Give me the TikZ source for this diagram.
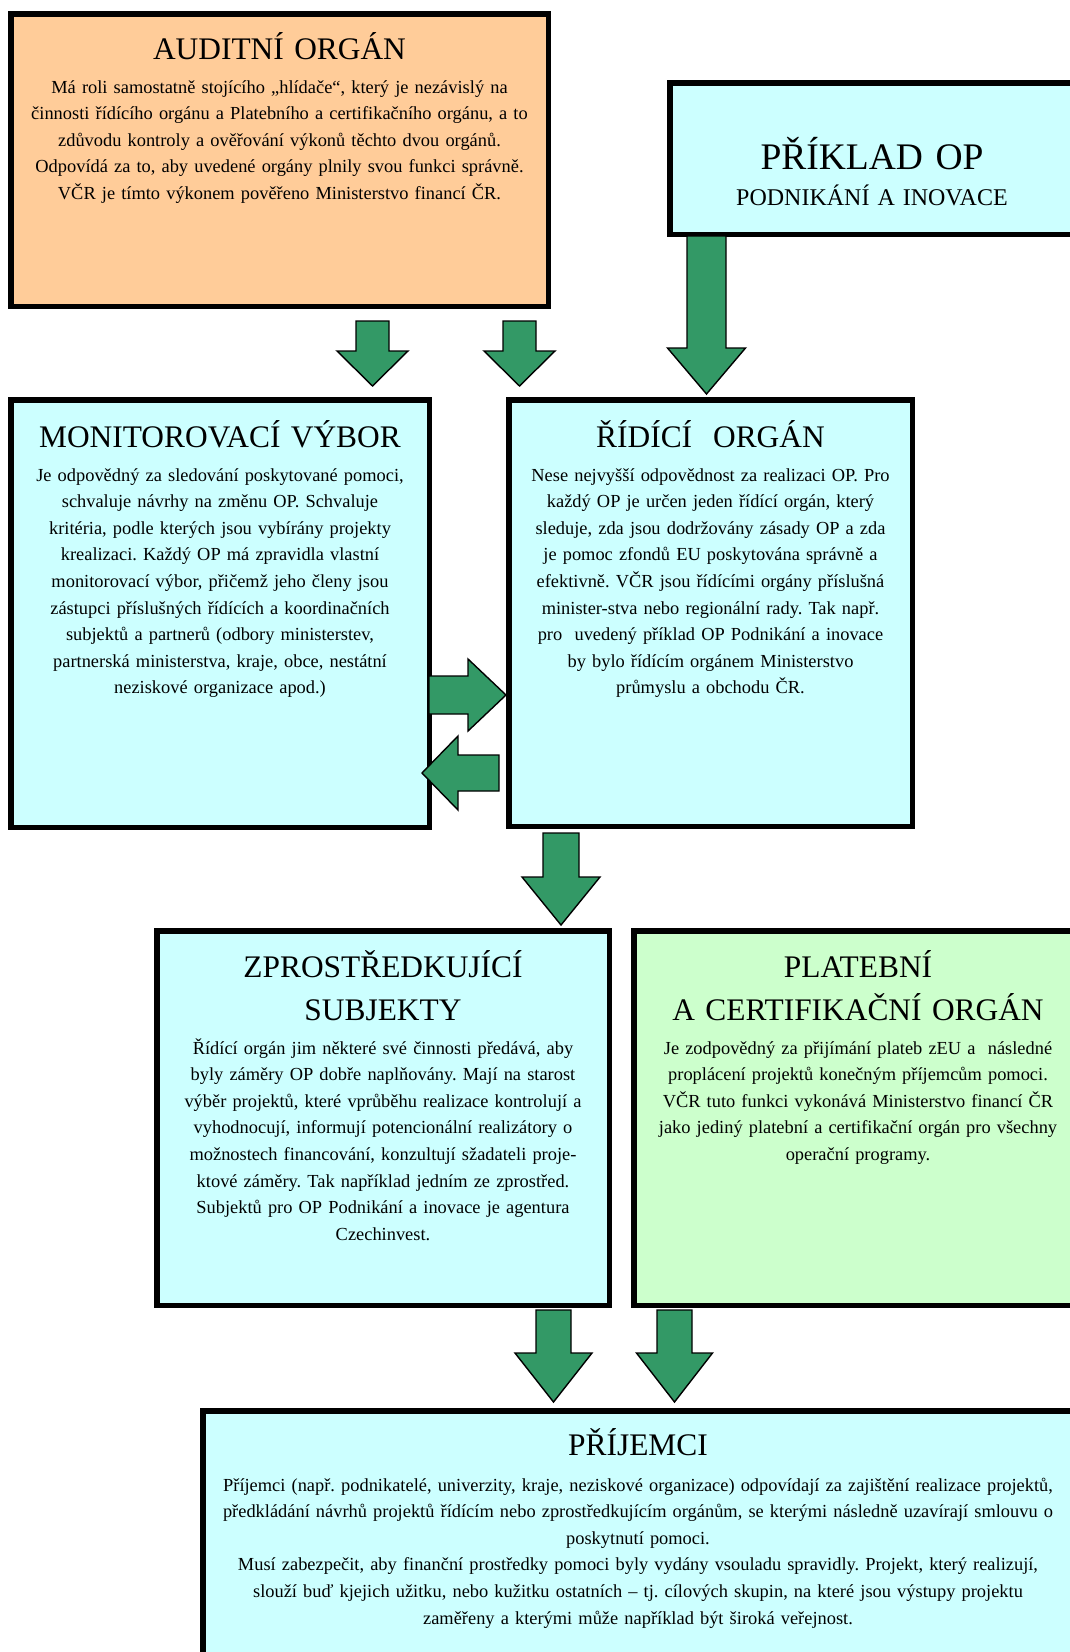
\documentclass[tikz,border=0pt]{standalone}
\usepackage{fontspec}
\setmainfont{Liberation Serif}
\usetikzlibrary{calc}
\frenchspacing
\definecolor{peach}{HTML}{FFCC99}
\definecolor{cyanbox}{HTML}{CCFFFF}
\definecolor{greenbox}{HTML}{CCFFCC}
\definecolor{arrowgreen}{HTML}{339966}
\newcommand\blockarr[5]{%
  \path ($(#2)!#5!(#1)$) coordinate (hb);
  \draw[blockarrow] ($(#1)!#3!90:(#2)$) -- ($(hb)!#3!90:(#2)$) -- ($(hb)!#4!90:(#2)$) -- (#2)
    -- ($(hb)!#4!-90:(#2)$) -- ($(hb)!#3!-90:(#2)$) -- ($(#1)!#3!-90:(#2)$) -- cycle;}
\begin{document}
\begin{tikzpicture}[x=1pt,y=-1pt,
  box/.style={draw=black, line width=5.5pt, rectangle, inner sep=0pt},
  titletext/.style={font=\fontsize{31.4}{43}\selectfont, align=center, text width=700pt, anchor=base, inner sep=0pt},
  bodytext/.style={font=\fontsize{18.4}{26.6}\selectfont, align=center, text width=900pt, anchor=base, inner sep=0pt},
  blockarrow/.style={draw=black, fill=arrowgreen, line width=1.4pt, line join=miter}]
\useasboundingbox (0,0) rectangle (1070,1652);

% boxes
\node[box, fill=peach, minimum width=537.5pt, minimum height=292.5pt] (audit) at (279.5,160) {};
\node[box, fill=cyanbox, minimum width=404.5pt, minimum height=151.5pt] (priklad) at (872,158.5) {};
\node[box, fill=cyanbox, minimum width=418.5pt, minimum height=427.5pt] (monit) at (220,613.5) {};
\node[box, fill=cyanbox, minimum width=403.5pt, minimum height=426.5pt] (ridici) at (710.5,613) {};
\node[box, fill=cyanbox, minimum width=452.5pt, minimum height=374.5pt] (zpro) at (383,1118) {};
\node[box, fill=greenbox, minimum width=448.5pt, minimum height=374.5pt] (plat) at (858,1118) {};
\node[box, fill=cyanbox, minimum width=870.5pt, minimum height=256.5pt] (prij) at (638,1539) {};

% texts
\node[titletext] (audit-t) at (279.5,59) {AUDITNÍ ORGÁN};
\node[bodytext] (audit-b) at (279.5,93) {Má roli samostatně stojícího „hlídače“, který je nezávislý na\\
činnosti řídícího orgánu a Platebního a certifikačního orgánu, a to\\
zdůvodu kontroly a ověřování výkonů těchto dvou orgánů.\\
Odpovídá za to, aby uvedené orgány plnily svou funkci správně.\\
VČR je tímto výkonem pověřeno Ministerstvo financí ČR.};

\node[titletext, font=\fontsize{37.5}{43}\selectfont] (priklad-t) at (872,169.5) {PŘÍKLAD OP};
\node[titletext, font=\fontsize{24}{28}\selectfont] (priklad-s) at (872,205) {PODNIKÁNÍ A INOVACE};

\node[titletext] (monit-t) at (220,447) {MONITOROVACÍ VÝBOR};
\node[bodytext] (monit-b) at (220,481) {Je odpovědný za sledování poskytované pomoci,\\
schvaluje návrhy na změnu OP. Schvaluje\\
kritéria, podle kterých jsou vybírány projekty\\
krealizaci. Každý OP má zpravidla vlastní\\
monitorovací výbor, přičemž jeho členy jsou\\
zástupci příslušných řídících a koordinačních\\
subjektů a partnerů (odbory ministerstev,\\
partnerská ministerstva, kraje, obce, nestátní\\
neziskové organizace apod.)};

\node[titletext] (ridici-t) at (710.5,447) {ŘÍDÍCÍ\ \ ORGÁN};
\node[bodytext] (ridici-b) at (710.5,481) {Nese nejvyšší odpovědnost za realizaci OP. Pro\\
každý OP je určen jeden řídící orgán, který\\
sleduje, zda jsou dodržovány zásady OP a zda\\
je pomoc zfondů EU poskytována správně a\\
efektivně. VČR jsou řídícími orgány příslušná\\
minister-stva nebo regionální rady. Tak např.\\
pro\ \ uvedený příklad OP Podnikání a inovace\\
by bylo řídícím orgánem Ministerstvo\\
průmyslu a obchodu ČR.};

\node[titletext] (zpro-t) at (383,977) {ZPROSTŘEDKUJÍCÍ\\SUBJEKTY};
\node[bodytext] (zpro-b) at (383,1054) {Řídící orgán jim některé své činnosti předává, aby\\
byly záměry OP dobře naplňovány. Mají na starost\\
výběr projektů, které vprůběhu realizace kontrolují a\\
vyhodnocují, informují potencionální realizátory o\\
možnostech financování, konzultují sžadateli proje-\\
ktové záměry. Tak například jedním ze zprostřed.\\
Subjektů pro OP Podnikání a inovace je agentura\\
Czechinvest.};

\node[titletext] (plat-t) at (858,977) {PLATEBNÍ\\A CERTIFIKAČNÍ ORGÁN};
\node[bodytext] (plat-b) at (858,1054) {Je zodpovědný za přijímání plateb zEU a\ \ následné\\
proplácení projektů konečným příjemcům pomoci.\\
VČR tuto funkci vykonává Ministerstvo financí ČR\\
jako jediný platební a certifikační orgán pro všechny\\
operační programy.};

\node[titletext] (prij-t) at (638,1455) {PŘÍJEMCI};
\node[bodytext] (prij-b) at (638,1491) {Příjemci (např. podnikatelé, univerzity, kraje, neziskové organizace) odpovídají za zajištění realizace projektů,\\
předkládání návrhů projektů řídícím nebo zprostředkujícím orgánům, se kterými následně uzavírají smlouvu o\\
poskytnutí pomoci.\\
Musí zabezpečit, aby finanční prostředky pomoci byly vydány vsouladu spravidly. Projekt, který realizují,\\
slouží buď kjejich užitku, nebo kužitku ostatních – tj. cílových skupin, na které jsou výstupy projektu\\
zaměřeny a kterými může například být široká veřejnost.};

% arrow end points
\coordinate (a1s) at (372.5,321);  \coordinate (a1t) at (372.5,386);
\coordinate (a2s) at (519.5,321);  \coordinate (a2t) at (519.5,386);
\coordinate (a3s) at (706.5,236);  \coordinate (a3t) at (706.5,394);
\coordinate (a4s) at (429,695);    \coordinate (a4t) at (506,695);
\coordinate (a5s) at (499,773);    \coordinate (a5t) at (422,773);
\coordinate (a6s) at (561,833);    \coordinate (a6t) at (561,925);
\coordinate (a7s) at (553.5,1310); \coordinate (a7t) at (553.5,1402);
\coordinate (a8s) at (674.5,1310); \coordinate (a8t) at (674.5,1402);

\blockarr{a1s}{a1t}{16.5pt}{35.5pt}{35pt}
\blockarr{a2s}{a2t}{16.5pt}{35.5pt}{35pt}
\blockarr{a3s}{a3t}{19.5pt}{39pt}{46pt}
\blockarr{a4s}{a4t}{19pt}{36pt}{38pt}
\blockarr{a5s}{a5t}{18pt}{37pt}{36pt}
\blockarr{a6s}{a6t}{18pt}{39pt}{48pt}
\blockarr{a7s}{a7t}{17.5pt}{38.5pt}{49pt}
\blockarr{a8s}{a8t}{17.5pt}{38pt}{49pt}
\end{tikzpicture}
\end{document}
